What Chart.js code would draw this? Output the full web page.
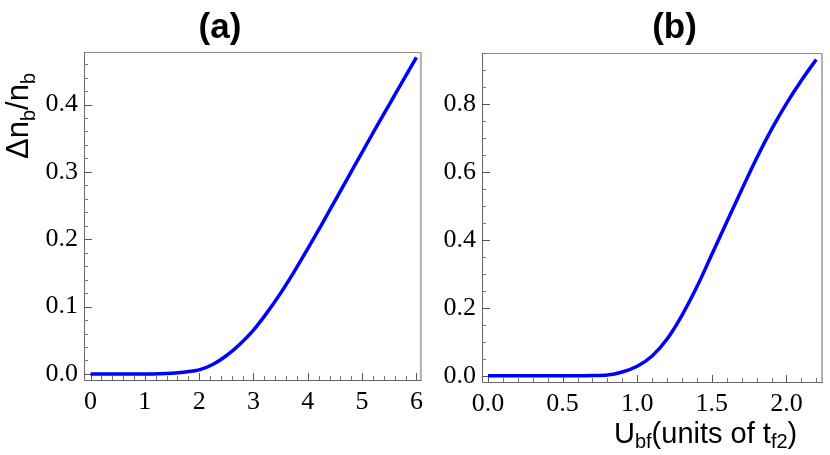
<!DOCTYPE html>
<html>
<head>
<meta charset="utf-8">
<script src="https://cdn.jsdelivr.net/npm/chart.js@4.4.1/dist/chart.umd.min.js"></script>
<style>
  body { margin: 0; background: #fff; overflow: hidden; }
  #wrap { position: relative; width: 830px; height: 455px; }
  #chartA { position: absolute; left: 0; top: 0; }
  #chartB { position: absolute; left: 430px; top: 0; }
</style>
</head>
<body>
<div id="wrap">
  <canvas id="chartA" width="430" height="455"></canvas>
  <canvas id="chartB" width="400" height="455"></canvas>
</div>
<script>
// panel (a): delta n_b / n_b against U_bf
let xA = [0, 0.5, 1, 1.5, 1.75, 2, 2.25, 2.5, 2.75, 3, 3.25, 3.5, 3.75, 4, 4.25, 4.5, 4.75, 5, 5.25, 5.5, 5.75, 6];
let yA = [0, 0, 0, 0.001, 0.003, 0.006, 0.014, 0.027, 0.044, 0.065, 0.091, 0.120, 0.152, 0.186, 0.221, 0.257, 0.293, 0.329, 0.365, 0.400, 0.435, 0.470];
// panel (b)
let xB = [0, 0.2, 0.4, 0.6, 0.7, 0.8, 0.9, 1.0, 1.1, 1.2, 1.3, 1.4, 1.5, 1.6, 1.7, 1.8, 1.9, 2.0, 2.1, 2.2];
let yB = [0, 0, 0, 0, 0.0005, 0.002, 0.011, 0.028, 0.058, 0.108, 0.178, 0.262, 0.357, 0.453, 0.548, 0.641, 0.726, 0.802, 0.870, 0.932];

let xTicksA = [0, 1, 2, 3, 4, 5, 6];
let yTicksA = [0, 0.1, 0.2, 0.3, 0.4];
let xTicksB = [0, 0.5, 1, 1.5, 2];
let yTicksB = [0, 0.2, 0.4, 0.6, 0.8];

const SERIF = '"Liberation Serif", "Times New Roman", serif';
const SANS = '"Liberation Sans", Arial, sans-serif';

// draws text pieces, some of them as subscripts: [[text, isSub], ...]
function drawRich(ctx, parts, x, y, size, subSize, subDrop) {
    let cx = x;
    parts.forEach(p => {
        ctx.font = (p[1] ? subSize : size) + 'px ' + SANS;
        ctx.fillText(p[0], cx, p[1] ? y + subDrop : y);
        cx += ctx.measureText(p[0]).width;
    });
}

function richWidth(ctx, parts, size, subSize) {
    let w = 0;
    parts.forEach(p => {
        ctx.font = (p[1] ? subSize : size) + 'px ' + SANS;
        w += ctx.measureText(p[0]).width;
    });
    return w;
}

var framePlugin = {
    id: 'frame',
    beforeDatasetsDraw: function (chart, args, options) {
        let ctx = chart.ctx;
        let a = chart.chartArea;
        let sx = chart.scales.x, sy = chart.scales.y;
        ctx.save();

        // frame
        ctx.lineWidth = 1;
        ctx.strokeStyle = '#8a8a8a';
        ctx.beginPath();
        ctx.moveTo(a.left, a.top + 0.5);
        ctx.lineTo(a.right, a.top + 0.5);
        ctx.stroke();
        ctx.strokeStyle = '#b0b0b0';
        ctx.lineWidth = 2;
        ctx.beginPath();
        ctx.moveTo(a.right - 1, a.top);
        ctx.lineTo(a.right - 1, a.bottom);
        ctx.stroke();
        ctx.strokeStyle = '#666';
        ctx.lineWidth = 1;
        ctx.beginPath();
        ctx.moveTo(a.left + 0.5, a.top);
        ctx.lineTo(a.left + 0.5, a.bottom + 0.5);
        ctx.lineTo(a.right, a.bottom + 0.5);
        ctx.stroke();

        // minor ticks (inward)
        ctx.strokeStyle = '#777';
        ctx.beginPath();
        for (let k = Math.ceil(sx.min / options.xMinor - 1e-9); k * options.xMinor <= sx.max + 1e-9; k++) {
            let px = Math.round(sx.getPixelForValue(k * options.xMinor)) + 0.5;
            ctx.moveTo(px, a.bottom);
            ctx.lineTo(px, a.bottom - 4);
        }
        for (let k = Math.ceil(sy.min / options.yMinor - 1e-9); k * options.yMinor <= sy.max + 1e-9; k++) {
            let py = Math.round(sy.getPixelForValue(k * options.yMinor)) + 0.5;
            ctx.moveTo(a.left, py);
            ctx.lineTo(a.left + 4, py);
        }
        ctx.stroke();
        // major ticks
        ctx.strokeStyle = '#555';
        ctx.beginPath();
        sx.ticks.forEach(t => {
            let px = Math.round(sx.getPixelForValue(t.value)) + 0.5;
            ctx.moveTo(px, a.bottom);
            ctx.lineTo(px, a.bottom - 7);
        });
        sy.ticks.forEach(t => {
            let py = Math.round(sy.getPixelForValue(t.value)) + 0.5;
            ctx.moveTo(a.left, py);
            ctx.lineTo(a.left + 8, py);
        });
        ctx.stroke();
        ctx.restore();
    },
    afterDraw: function (chart, args, options) {
        let ctx = chart.ctx;
        ctx.save();
        ctx.fillStyle = '#000';
        // panel title
        ctx.font = 'bold 35px ' + SANS;
        ctx.textAlign = 'center';
        ctx.textBaseline = 'middle';
        ctx.fillText(options.title, options.titleX, options.titleY);
        ctx.textAlign = 'left';
        ctx.textBaseline = 'alphabetic';

        if (options.yLabel) {
            let w = richWidth(ctx, options.yLabel, 31, 20);
            ctx.translate(options.yLabelX, options.yLabelY);
            ctx.rotate(-Math.PI / 2);
            drawRich(ctx, options.yLabel, -w / 2, 0, 31, 20, 7);
        }
        if (options.xLabel) {
            drawRich(ctx, options.xLabel, options.xLabelX, options.xLabelY, 29, 20, 5);
        }
        ctx.restore();
    }
};
Chart.register(framePlugin);

function makeOptions(cfg) {
    return {
        responsive: false,
        animation: false,
        layout: { padding: { top: cfg.top, right: cfg.right, left: 0, bottom: 0 } },
        plugins: {
            legend: { display: false },
            tooltip: { enabled: false },
            frame: cfg.frame
        },
        scales: {
            x: {
                type: 'linear',
                min: cfg.xMin,
                max: cfg.xMax,
                afterBuildTicks: function (scale) {
                    scale.ticks = cfg.xTicks.map(v => ({ value: v }));
                },
                afterFit: function (scale) { scale.height = cfg.xAxisHeight; },
                grid: { display: false, drawTicks: false },
                border: { display: false },
                ticks: {
                    autoSkip: false,
                    maxRotation: 0,
                    padding: 7,
                    color: '#000',
                    font: { family: SERIF, size: 26 },
                    callback: function (value) { return value.toFixed(cfg.xDigits); }
                }
            },
            y: {
                type: 'linear',
                min: cfg.yMin,
                max: cfg.yMax,
                afterBuildTicks: function (scale) {
                    scale.ticks = cfg.yTicks.map(v => ({ value: v }));
                },
                afterFit: function (scale) { scale.width = cfg.yAxisWidth; },
                grid: { display: false, drawTicks: false },
                border: { display: false },
                ticks: {
                    padding: 6,
                    color: '#000',
                    font: { family: SERIF, size: 26 },
                    callback: function (value) { return value.toFixed(1); }
                }
            }
        }
    };
}

function lineData(xs, ys) {
    return {
        datasets: [{
            data: xs.map((x, i) => ({ x: x, y: ys[i] })),
            borderColor: '#0000ff',
            borderWidth: 3.5,
            pointRadius: 0,
            fill: false,
            cubicInterpolationMode: 'monotone'
        }]
    };
}

let chartA = new Chart(document.getElementById('chartA').getContext('2d'), {
    type: 'line',
    data: lineData(xA, yA),
    options: makeOptions({
        top: 52, right: 5, xAxisHeight: 75, yAxisWidth: 84,
        xMin: -0.12, xMax: 6.1, yMin: -0.009, yMax: 0.478,
        xTicks: xTicksA, yTicks: yTicksA, xDigits: 0,
        frame: {
            xMinor: 0.2, yMinor: 0.02,
            title: '(a)', titleX: 220, titleY: 28,
            yLabel: [['\u0394n', false], ['b', true], ['/n', false], ['b', true]],
            yLabelX: 28, yLabelY: 116
        }
    })
});

let chartB = new Chart(document.getElementById('chartB').getContext('2d'), {
    type: 'line',
    data: lineData(xB, yB),
    options: makeOptions({
        top: 53, right: 7, xAxisHeight: 73, yAxisWidth: 52,
        xMin: -0.04, xMax: 2.245, yMin: -0.0186, yMax: 0.951,
        xTicks: xTicksB, yTicks: yTicksB, xDigits: 1,
        frame: {
            xMinor: 0.1, yMinor: 0.05,
            title: '(b)', titleX: 244.5, titleY: 28,
            xLabel: [['U', false], ['bf', true], ['(units of t', false], ['f2', true], [')', false]],
            xLabelX: 184, xLabelY: 443
        }
    })
});
</script>
</body>
</html>
